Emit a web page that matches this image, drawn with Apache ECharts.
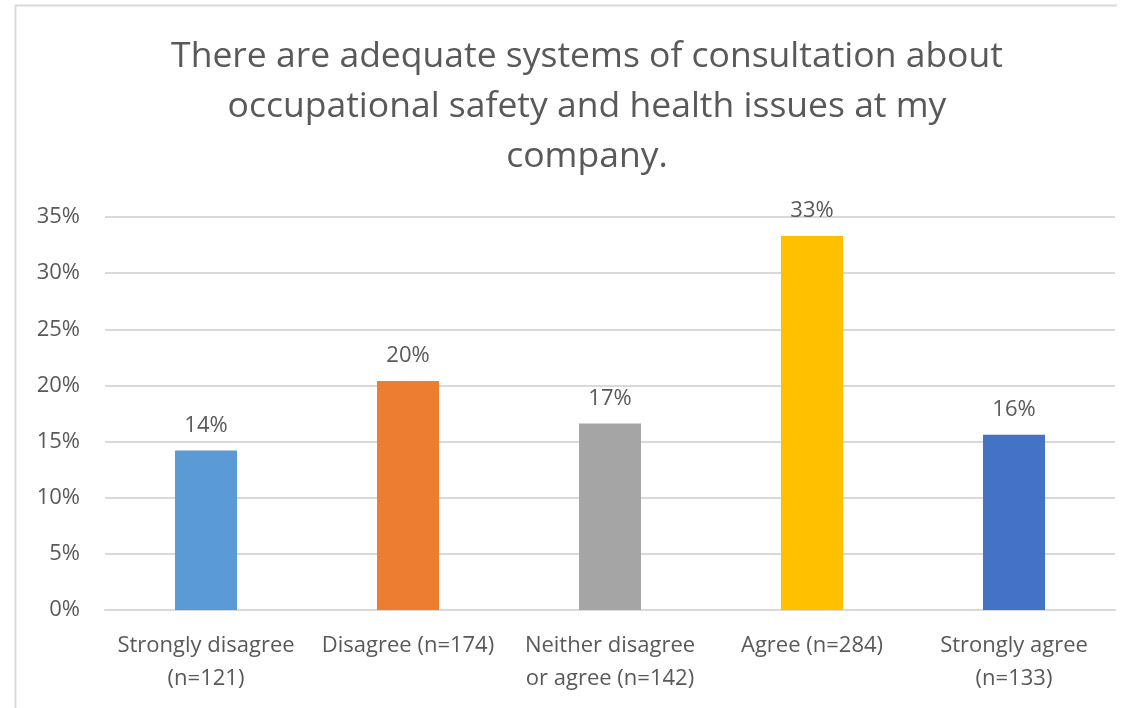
<!DOCTYPE html>
<html><head><meta charset="utf-8">
<script src="https://cdn.jsdelivr.net/npm/echarts@6/dist/echarts.min.js"></script>
<style>html,body{margin:0;padding:0;background:#fff}#c{width:1127px;height:708px}</style>
</head><body><div id="c"></div>
<script>
const categories = ['Strongly disagree\n(n=121)', 'Disagree (n=174)', 'Neither disagree\nor agree (n=142)', 'Agree (n=284)', 'Strongly agree\n(n=133)'];
const values = [14.2, 20.4, 16.6, 33.3, 15.6];
const barColors = ['#5B9BD5', '#ED7D31', '#A5A5A5', '#FFC000', '#4472C4'];
const yTicks = [0, 5, 10, 15, 20, 25, 30, 35];
const titleText = 'There are adequate systems of consultation about\noccupational safety and health issues at my\ncompany.';

const FONT = 'Open Sans';
const chart = echarts.init(document.getElementById('c'));
chart.setOption({
  animation: false,
  textStyle: { fontFamily: FONT },
  graphic: [
    { type: 'polyline', shape: { points: [[15.5, 708], [15.5, 5.5], [1117, 5.5]] }, style: { stroke: '#d9d9d9', lineWidth: 2, fill: null } }
  ],
  title: {
    text: titleText, left: 582, top: 27, textAlign: 'center',
    textStyle: { fontFamily: FONT, fontSize: 35.5, fontWeight: 'normal', color: '#595959', lineHeight: 50 }
  },
  grid: { left: 105, right: 12, top: 217, bottom: 98 },
  xAxis: {
    type: 'category', data: categories,
    axisLine: { lineStyle: { color: '#d9d9d9', width: 2 } },
    axisTick: { show: false },
    axisLabel: { color: '#595959', fontSize: 22, lineHeight: 33, margin: 19, interval: 0, fontFamily: FONT }
  },
  yAxis: {
    type: 'value', min: yTicks[0], max: yTicks[yTicks.length - 1], interval: 5,
    axisLine: { show: false }, axisTick: { show: false },
    splitLine: { lineStyle: { color: '#d9d9d9', width: 2 } },
    axisLabel: { color: '#595959', fontSize: 22, margin: 25, formatter: v => v + '%', fontFamily: FONT }
  },
  series: [{
    type: 'bar', barWidth: 62,
    data: values.map((v, i) => ({ value: v, itemStyle: { color: barColors[i] } })),
    label: { show: true, position: 'top', distance: 14, color: '#595959', fontSize: 22, fontFamily: FONT, formatter: p => Math.round(p.value) + '%' }
  }]
});
</script></body></html>
